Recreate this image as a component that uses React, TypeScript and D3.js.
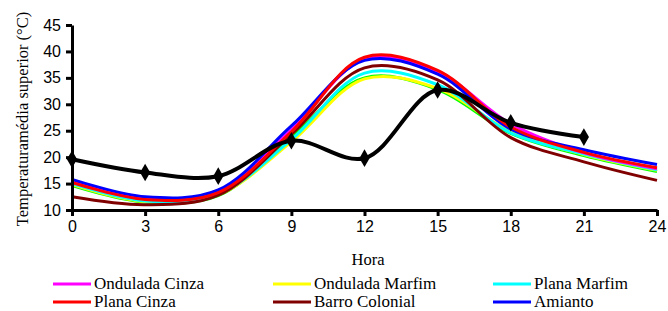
import { useEffect, useRef } from "react";
import * as d3 from "d3";

const hours = [0, 3, 6, 9, 12, 15, 18, 21, 24];
const xTicks = [0, 3, 6, 9, 12, 15, 18, 21, 24];
const yTicks = [10, 15, 20, 25, 30, 35, 40, 45];

const onduladaCinza = [15.4, 12.2, 13.5, 25.2, 38.5, 36.1, 26.3, 20.8, 17.8];
const onduladaMarfim = [14.8, 11.6, 12.9, 22.9, 34.8, 33.0, 24.8, 20.5, 17.5];
const planaMarfim = [15.0, 11.7, 13.0, 23.3, 35.9, 33.7, 24.6, 20.6, 17.6];
const planaCinza = [15.2, 12.0, 13.3, 24.8, 38.9, 36.4, 25.7, 20.9, 18.0];
const barroColonial = [12.5, 11.0, 12.8, 24.3, 36.9, 34.6, 23.7, 19.1, 15.6];
const amianto = [15.8, 12.5, 13.8, 25.9, 38.3, 35.7, 25.3, 21.4, 18.6];
const verde = [14.6, 11.5, 12.7, 23.8, 35.0, 32.8, 24.5, 20.3, 17.3];

const ambientHours = [0, 3, 6, 9, 12, 15, 18, 21];
const ambiente = [19.6, 17.1, 16.4, 23.1, 19.8, 32.7, 26.5, 23.8];

interface Series {
  name: string;
  color: string;
  values: number[];
}

const series: Series[] = [
  { name: "Verde", color: "#00ff00", values: verde },
  { name: "Ondulada Marfim", color: "#ffff00", values: onduladaMarfim },
  { name: "Plana Marfim", color: "#00ffff", values: planaMarfim },
  { name: "Barro Colonial", color: "#800000", values: barroColonial },
  { name: "Ondulada Cinza", color: "#ff00ff", values: onduladaCinza },
  { name: "Amianto", color: "#0000ff", values: amianto },
  { name: "Plana Cinza", color: "#ff0000", values: planaCinza },
];

const legendOrder = [
  "Ondulada Cinza",
  "Ondulada Marfim",
  "Plana Marfim",
  "Plana Cinza",
  "Barro Colonial",
  "Amianto",
];

const serif = "Liberation Serif, DejaVu Serif, serif";
const sans = "Liberation Sans, Arial, sans-serif";

export default function App() {
  const ref = useRef<SVGSVGElement | null>(null);

  useEffect(() => {
    const width = 668;
    const height = 311;
    const svg = d3.select(ref.current).attr("width", width).attr("height", height);
    svg.selectAll("*").remove();

    const x = d3.scaleLinear().domain([0, 24]).range([72, 657]);
    const y = d3.scaleLinear().domain([10, 45]).range([210, 25]);

    const line = d3
      .line<number>()
      .x((_d, i) => x(hours[i]))
      .y((d) => y(d))
      .curve(d3.curveCatmullRom.alpha(0.5));

    series.forEach((s) => {
      svg
        .append("path")
        .attr("d", line(s.values))
        .attr("fill", "none")
        .attr("stroke", s.color)
        .attr("stroke-width", 3);
    });

    const ambLine = d3
      .line<number>()
      .x((_d, i) => x(ambientHours[i]))
      .y((d) => y(d))
      .curve(d3.curveCatmullRom.alpha(0.5));

    svg
      .append("path")
      .attr("d", ambLine(ambiente))
      .attr("fill", "none")
      .attr("stroke", "#000")
      .attr("stroke-width", 4);

    svg
      .selectAll("path.marker")
      .data(ambiente)
      .enter()
      .append("path")
      .attr("class", "marker")
      .attr("d", d3.symbol().type(d3.symbolDiamond).size(90)())
      .attr("transform", (d, i) => `translate(${x(ambientHours[i])},${y(d)})`)
      .attr("fill", "#000");

    // axes
    const xAxis = svg
      .append("g")
      .attr("transform", "translate(0,210)")
      .call(d3.axisBottom(x).tickValues(xTicks).tickSize(6).tickSizeOuter(0).tickPadding(5));
    const yAxis = svg
      .append("g")
      .attr("transform", "translate(72,0)")
      .call(d3.axisLeft(y).tickValues(yTicks).tickSize(6).tickSizeOuter(0).tickPadding(5));

    [xAxis, yAxis].forEach((g) => {
      g.attr("font-family", sans).attr("font-size", 16);
      g.select(".domain").attr("stroke", "#000").attr("stroke-width", 3);
      g.selectAll(".tick line").attr("stroke", "#000").attr("stroke-width", 3);
      g.selectAll(".tick text").attr("fill", "#000");
    });

    const labels = svg.append("g").attr("font-family", serif).attr("fill", "#000");

    labels
      .append("text")
      .attr("x", 368)
      .attr("y", 265)
      .attr("text-anchor", "middle")
      .attr("font-size", 16.5)
      .text("Hora");

    labels
      .append("text")
      .attr("transform", "translate(28,119) rotate(-90)")
      .attr("text-anchor", "middle")
      .attr("font-size", 16.5)
      .text("Temperaturamédia superior (°C)");

    // legend
    const colX = [53, 273, 493];
    const rowY = [284, 302];
    legendOrder.forEach((name, i) => {
      const s = series.find((d) => d.name === name)!;
      const cx = colX[i % 3];
      const cy = rowY[Math.floor(i / 3)];
      labels
        .append("line")
        .attr("x1", cx)
        .attr("x2", cx + 38)
        .attr("y1", cy)
        .attr("y2", cy)
        .attr("stroke", s.color)
        .attr("stroke-width", 3);
      labels
        .append("text")
        .attr("x", cx + 41)
        .attr("y", cy + 5)
        .attr("font-size", 17)
        .text(s.name);
    });
  }, []);

  return (
    <div style={{ position: "fixed", left: 0, top: 0, background: "#fff" }}>
      <svg ref={ref} style={{ display: "block" }} />
    </div>
  );
}
